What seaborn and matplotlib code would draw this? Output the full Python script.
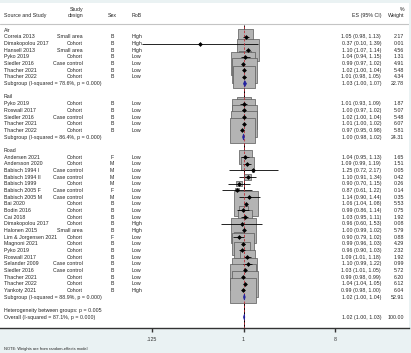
"""Forest plot: noise exposure by source (air / rail / road)"""
import seaborn as sns
import matplotlib.pyplot as plt
import matplotlib.transforms as mtrans
import pandas as pd
import numpy as np

BG, TXT = '#eaf2f3', '#262626'
BOX, BOX_EDGE = '#b4b4b4', '#595959'
DIAM, REF = '#2323a0', '#c0303a'
FS = 3.8

sns.set_theme(style='white', rc={'figure.facecolor': BG, 'axes.facecolor': 'white'})
plt.rcParams['font.family'] = ['Liberation Sans', 'DejaVu Sans']

# ---- data -------------------------------------------------------------
groups = ['Air', 'Rail', 'Road']
group = ['Air'] * 7 + ['Rail'] * 5 + ['Road'] * 21
names = ['Correia 2013', 'Dimakopolou 2017', 'Hansell 2013', 'Pyko 2019',
         'Siedler 2016', 'Thacher 2021', 'Thacher 2022',
         'Pyko 2019', 'Roswall 2017', 'Siedler 2016', 'Thacher 2021', 'Thacher 2022',
         'Andersen 2021', 'Andersson 2020', 'Babisch 1994 I', 'Babisch 1994 II',
         'Babisch 1999', 'Babisch 2005 F', 'Babisch 2005 M', 'Bai 2020', 'Bodin 2016',
         'Cai 2018', 'Dimakopolou 2017', 'Halonen 2015', 'Lim & Jorgensen 2021',
         'Magnoni 2021', 'Pyko 2019', 'Roswall 2017', 'Selander 2009', 'Siedler 2016',
         'Thacher 2021', 'Thacher 2022', 'Yankoty 2021']
design = ['Small area', 'Cohort', 'Small area', 'Cohort', 'Case control', 'Cohort', 'Cohort',
          'Cohort', 'Cohort', 'Case control', 'Cohort', 'Cohort',
          'Cohort', 'Cohort', 'Case control', 'Case control', 'Cohort', 'Case control',
          'Case control', 'Cohort', 'Cohort', 'Cohort', 'Cohort', 'Small area', 'Cohort',
          'Cohort', 'Cohort', 'Cohort', 'Case control', 'Case control', 'Cohort', 'Cohort',
          'Cohort']
sex = ['B', 'B', 'B', 'B', 'B', 'B', 'B',
       'B', 'B', 'B', 'B', 'B',
       'F', 'M', 'M', 'M', 'M', 'F', 'M', 'B', 'B', 'B', 'B', 'B', 'F', 'B', 'B', 'B',
       'B', 'B', 'B', 'B', 'B']
rob = ['High', 'High', 'High', 'Low', 'Low', 'Low', 'Low',
       'Low', 'Low', 'Low', 'Low', 'Low',
       'Low', 'Low', 'Low', 'Low', 'Low', 'Low', 'Low', 'Low', 'Low', 'Low', 'High',
       'High', 'Low', 'Low', 'Low', 'Low', 'Low', 'Low', 'Low', 'Low', 'High']
es = [1.05, 0.37, 1.10, 1.04, 0.99, 1.02, 1.01,
      1.01, 1.00, 1.02, 1.01, 0.97,
      1.04, 1.09, 1.25, 1.10, 0.90, 0.87, 1.14, 1.06, 0.99, 1.03, 0.96, 1.00, 0.90,
      0.99, 0.96, 1.09, 1.10, 1.03, 0.99, 1.04, 0.99]
lo = [0.98, 0.10, 1.07, 0.94, 0.97, 1.00, 0.98,
      0.93, 0.97, 1.00, 1.00, 0.95,
      0.95, 0.99, 0.72, 0.91, 0.70, 0.61, 0.90, 1.04, 0.86, 0.95, 0.60, 0.99, 0.79,
      0.96, 0.90, 1.01, 0.99, 1.01, 0.98, 1.04, 0.98]
hi = [1.13, 1.39, 1.14, 1.15, 1.02, 1.04, 1.05,
      1.09, 1.02, 1.04, 1.02, 0.98,
      1.13, 1.19, 2.17, 1.34, 1.15, 1.22, 1.44, 1.08, 1.14, 1.11, 1.53, 1.02, 1.02,
      1.03, 1.03, 1.18, 1.22, 1.05, 0.99, 1.05, 1.00]
weight = [2.17, 0.01, 4.56, 1.31, 4.91, 5.48, 4.34,
          1.87, 5.07, 5.48, 6.07, 5.81,
          1.65, 1.51, 0.05, 0.42, 0.26, 0.14, 0.35, 5.53, 0.75, 1.92, 0.08, 5.79, 0.88,
          4.29, 2.32, 1.92, 0.99, 5.72, 6.20, 6.12, 6.04]

sub_es = [1.03, 1.00, 1.02]
sub_lo = [1.00, 0.98, 1.00]
sub_hi = [1.07, 1.02, 1.04]
sub_w = [22.78, 24.31, 52.91]
sub_i2 = ['78.6%', '86.4%', '88.9%']
sub_p = ['0.000', '0.000', '0.000']
het_between_p = '0.005'
overall_es, overall_lo, overall_hi, overall_w = 1.02, 1.00, 1.03, 100.00
overall_i2, overall_p = '87.1%', '0.000'
x_ticks = [0.125, 1, 8]
x_ticklabels = ['.125', '1', '8']

# ---- row layout -------------------------------------------------------
df = pd.DataFrame({'group': group, 'name': names, 'design': design, 'sex': sex,
                   'rob': rob, 'es': es, 'lo': lo, 'hi': hi, 'w': weight})
rows, group_rows, sub_rows = [], [], []
r = 0
for g in groups:
    group_rows.append(r)
    r += 1
    n = (df['group'] == g).sum()
    rows.extend(range(r, r + n))
    r += n
    sub_rows.append(r)
    r += 2
het_row, overall_row = r, r + 1
df['row'] = rows

# pixel geometry of the reference
W_PX, H_PX = 411, 353
ROW0, ROWH = 30.3, 6.67          # y pixel of first row, row spacing
def row_at(py):
    return (py - ROW0) / ROWH

X1_PX, XUNIT = 243.5, 30.5       # x pixel of 1, pixels per doubling
AX_L, AX_R, AX_T, AX_B = 0, 409, 3, 328

fig = plt.figure(figsize=(W_PX / 100, H_PX / 100), dpi=100, facecolor=BG)
ax = fig.add_axes([AX_L / W_PX, 1 - AX_B / H_PX, (AX_R - AX_L) / W_PX, (AX_B - AX_T) / H_PX])
ax.set_xscale('log', base=2)
ax.set_xlim(2 ** ((AX_L - X1_PX) / XUNIT), 2 ** ((AX_R - X1_PX) / XUNIT))
y_bot, y_top = row_at(AX_B), row_at(AX_T)
ax.set_ylim(y_bot, y_top)

# reference lines
ax.axhline(row_at(24), color='#c4c4c4', lw=0.8)
ax.vlines(1, row_at(25), y_bot, color='black', lw=0.7, zorder=1)
ax.vlines(overall_es, row_at(26), y_bot, color=REF, lw=0.6, ls=(0, (3, 2)), zorder=4)

# weight boxes, CIs, point estimates
sns.scatterplot(data=df, x='es', y='row', size='w', sizes=(0, 350), size_norm=(0, 6.2),
                marker='s', color=BOX, edgecolor=BOX_EDGE, linewidth=0.5,
                legend=False, ax=ax, zorder=2)
ax.hlines(df['row'], df['lo'], df['hi'], color='black', lw=0.6, zorder=3)
sns.scatterplot(data=df, x='es', y='row', marker='D', s=6, color='black',
                linewidth=0, legend=False, ax=ax, zorder=5)

def diamond(e, l, h, rr, half=0.45):
    ax.fill([l, e, h, e], [rr, rr - half, rr, rr + half], facecolor=DIAM,
            edgecolor=DIAM, lw=0.5, zorder=6)

for e, l, h, rr in zip(sub_es, sub_lo, sub_hi, sub_rows):
    diamond(e, l, h, rr)
diamond(overall_es, overall_lo, overall_hi, overall_row)

# ---- text columns -----------------------------------------------------
tr = mtrans.blended_transform_factory(ax.transAxes, ax.transData)
def put(px, rr, s, ha='left'):
    ax.text((px - AX_L) / (AX_R - AX_L), rr, s, transform=tr, ha=ha, va='center',
            fontsize=FS, color=TXT)

C_NAME, C_DES, C_SEX, C_ROB, C_ES, C_W = 4, 83, 112, 132, 381, 404
h1, h2 = row_at(9.5), row_at(15.7)
put(C_NAME, h2, 'Source and Study')
put(C_DES, h1, 'Study', 'right')
put(C_DES, h2, 'design', 'right')
put(C_SEX, h2, 'Sex', 'center')
put(C_ROB, h2, 'RoB')
put(C_ES, h2, 'ES (95% CI)', 'right')
put(C_W, h1, '%', 'right')
put(C_W, h2, 'Weight', 'right')

for g, rr in zip(groups, group_rows):
    put(C_NAME, rr, g)
for _, s in df.iterrows():
    put(C_NAME, s['row'], s['name'])
    put(C_DES, s['row'], s['design'], 'right')
    put(C_SEX, s['row'], s['sex'], 'center')
    put(C_ROB, s['row'], s['rob'])
    put(C_ES, s['row'], f"{s['es']:.2f} ({s['lo']:.2f}, {s['hi']:.2f})", 'right')
    put(C_W, s['row'], f"{s['w']:.2f}", 'right')
for i, rr in enumerate(sub_rows):
    put(C_NAME, rr, f'Subgroup (I-squared = {sub_i2[i]}, p = {sub_p[i]})')
    put(C_ES, rr, f'{sub_es[i]:.2f} ({sub_lo[i]:.2f}, {sub_hi[i]:.2f})', 'right')
    put(C_W, rr, f'{sub_w[i]:.2f}', 'right')
put(C_NAME, het_row, f'Heterogeneity between groups: p = {het_between_p}')
put(C_NAME, overall_row, f'Overall (I-squared = {overall_i2}, p = {overall_p})')
put(C_ES, overall_row, f'{overall_es:.2f} ({overall_lo:.2f}, {overall_hi:.2f})', 'right')
put(C_W, overall_row, f'{overall_w:.2f}', 'right')

# ---- axis -------------------------------------------------------------
ax.set_xticks(x_ticks)
ax.set_xticklabels(x_ticklabels)
ax.minorticks_off()
ax.set_yticks([])
ax.set_xlabel('')
ax.set_ylabel('')
ax.tick_params(axis='x', length=3.2, width=1.0, pad=3.5, labelsize=FS,
               colors='#333333', bottom=True)
for side in ['left', 'right', 'top']:
    ax.spines[side].set_visible(False)
ax.spines['bottom'].set_color('#333333')
ax.spines['bottom'].set_linewidth(1.0)

fig.text(4 / W_PX, 1 - 349 / H_PX, 'NOTE: Weights are from random-effects model',
         fontsize=2.9, color=TXT, va='center')

fig.savefig('out.png', dpi=100, facecolor=BG)
